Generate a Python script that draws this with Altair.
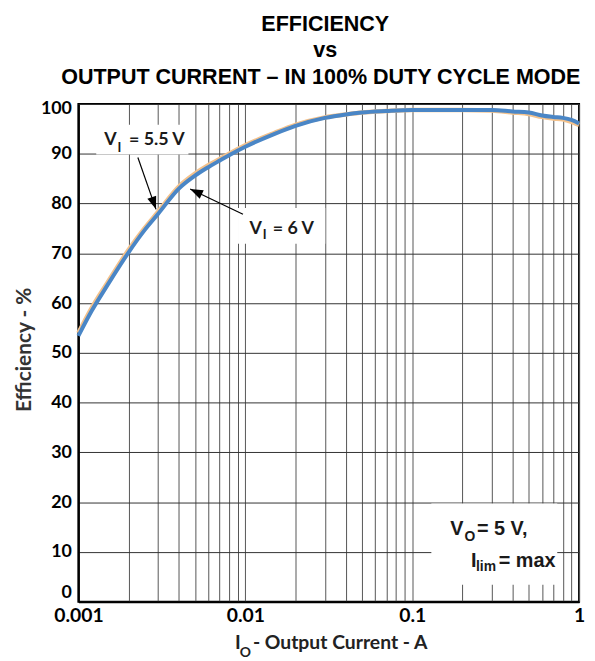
import altair as alt
import pandas as pd

# ---------------- data ----------------
current = [0.001, 0.0012, 0.0015, 0.002, 0.0025, 0.003, 0.004, 0.005, 0.006, 0.007,
           0.008, 0.01, 0.015, 0.02, 0.03, 0.04, 0.05, 0.07, 0.1, 0.15,
           0.2, 0.3, 0.4, 0.5, 0.6, 0.7, 0.8, 0.9, 1.0]
eff_6v = [53.4, 58.4, 63.7, 70.2, 74.7, 77.9, 83.0, 85.6, 87.3, 88.6,
          89.7, 91.4, 94.0, 95.6, 97.2, 97.9, 98.3, 98.6, 98.8, 98.8,
          98.8, 98.8, 98.5, 98.3, 97.7, 97.4, 97.2, 96.8, 96.1]
eff_55v = [54.0, 59.0, 64.2, 70.7, 75.1, 78.3, 83.4, 86.0, 87.7, 88.9,
           90.0, 91.7, 94.2, 95.8, 97.3, 97.9, 98.3, 98.6, 98.8, 98.8,
           98.8, 98.7, 98.3, 98.0, 97.4, 97.1, 96.9, 96.4, 95.8]

x_ticks = [round(m * 10 ** e, 6) for e in (-3, -2, -1) for m in range(1, 10)] + [1.0]
x_label_values = [0.001, 0.01, 0.1, 1]
x_label_texts = ["0.001", "0.01", "0.1", "1"]
y_ticks = list(range(0, 101, 10))

title_lines = ["EFFICIENCY", "vs", "OUTPUT CURRENT \u2013 IN 100% DUTY CYCLE MODE"]

W, H = 505, 502
BLUE = "#4a86c6"
ORANGE = "#f4c28c"
TXT = "#1a1a1a"
CAL = "Lato"
ARI = "Liberation Sans"

df6 = pd.DataFrame({"current": current, "eff": eff_6v})
df55 = pd.DataFrame({"current": current, "eff": eff_55v})
one = pd.DataFrame({"k": [0]})

label_expr = " : ".join(
    f"datum.value == {v} ? '{t}'" for v, t in zip(x_label_values, x_label_texts)
) + " : ''"

x_enc = alt.X(
    "current:Q",
    scale=alt.Scale(type="log", domain=[0.001, 1]),
    axis=alt.Axis(
        values=x_ticks, labelExpr=label_expr, title=None, grid=True,
        gridColor="#555555", gridWidth=1, ticks=False,
        labelFont=CAL, labelFontSize=19.5, labelFontWeight="bold", labelColor="#000000",
        labelPadding=5, labelOverlap=False, labelFlush=False,
        domainColor="#000000", domainWidth=2,
    ),
)
y_enc = alt.Y(
    "eff:Q",
    scale=alt.Scale(domain=[0, 100]),
    axis=alt.Axis(
        values=y_ticks, title=None, grid=True, gridColor="#333333", gridWidth=1,
        ticks=False, labelFont=CAL, labelFontSize=18, labelFontWeight="bold",
        labelColor="#000000", labelPadding=7, labelBaseline="middle",
        labelOffset={"condition": [{"test": "datum.value == 0", "value": -9},
                                   {"test": "datum.value == 100", "value": 5}],
                     "value": 0},
        domainColor="#000000", domainWidth=2,
    ),
)

line55 = alt.Chart(df55).mark_line(color=ORANGE, strokeWidth=4.5, interpolate="monotone").encode(x=x_enc, y=y_enc)
line6 = alt.Chart(df6).mark_line(color=BLUE, strokeWidth=4, interpolate="monotone").encode(x=x_enc, y=y_enc)


def box(x1, x2, y1, y2):
    return alt.Chart(one).mark_rect(color="white").encode(
        x=alt.value(x1), x2=alt.value(x2), y=alt.value(y1), y2=alt.value(y2))


def txt(s, x, y, size, font, align="left", baseline="alphabetic", color=TXT, angle=0):
    return alt.Chart(one).mark_text(
        text=s, align=align, baseline=baseline, font=font, fontSize=size,
        fontWeight="bold", color=color, angle=angle,
    ).encode(x=alt.value(x), y=alt.value(y))


def arrow(x1, y1, x2, y2, angle):
    rule = alt.Chart(one).mark_rule(color="black", strokeWidth=1.2).encode(
        x=alt.value(x1), y=alt.value(y1), x2=alt.value(x2), y2=alt.value(y2))
    head = alt.Chart(one).mark_point(
        shape="M0,0L0.36,1L-0.36,1Z", filled=True, size=676, angle=angle,
        color="black", opacity=1, strokeWidth=0,
    ).encode(x=alt.value(x2), y=alt.value(y2))
    return [rule, head]


layers = [
    box(18, 111, 21, 51),
    box(161, 249, 105, 141),
    box(356, 483, 403, 485),
    line55, line6,
    # V_I = 5.5 V
    txt("V", 26, 41.3, 18, CAL), txt("I", 39.5, 48, 13, CAL), txt("= 5.5 V", 51, 41.3, 18, CAL),
    # V_I = 6 V
    txt("V", 172.7, 130.7, 18, CAL), txt("I", 186, 136, 13, CAL), txt("= 6 V", 196, 130.7, 18, CAL),
    # V_O = 5 V, I_lim = max
    txt("V", 375, 435, 20, ARI), txt("O", 389.5, 441, 14, ARI), txt("= 5 V,", 402, 435, 20, ARI),
    txt("I", 396, 467, 20, ARI), txt("lim", 401, 471, 14, ARI), txt("= max", 424, 467, 20, ARI),
    # titles
    txt(title_lines[0], 249, -74, 21.7, ARI, align="center", color="#000000"),
    txt(title_lines[1], 249, -47, 21.7, ARI, align="center", color="#000000"),
    txt(title_lines[2], 244.5, -20, 21.7, ARI, align="center", color="#000000"),
    # axis titles
    txt("Efficiency - %", -53.5, 248, 21, CAL, align="center", baseline="middle", color="#333333", angle=270),
    txt("I", 158, 549.7, 19.5, CAL, color="#222222"),
    txt("O", 162.7, 557.5, 14, CAL, color="#222222"),
    txt("- Output Current - A", 176, 549.7, 19.5, CAL, color="#222222"),
]
layers += arrow(60, 54, 78.3, 106.3, 160.7)
layers += arrow(166, 111.3, 112.7, 85.7, 295.7)

chart = alt.layer(*layers).properties(
    width=W, height=H,
    autosize=alt.AutoSizeParams(type="none"),
    padding={"left": 71, "top": 94, "right": 8, "bottom": 55},
    background="white",
).configure_view(stroke="#000000", strokeWidth=2)

chart.save("out.html", embed_options={"renderer": "svg", "actions": False})
